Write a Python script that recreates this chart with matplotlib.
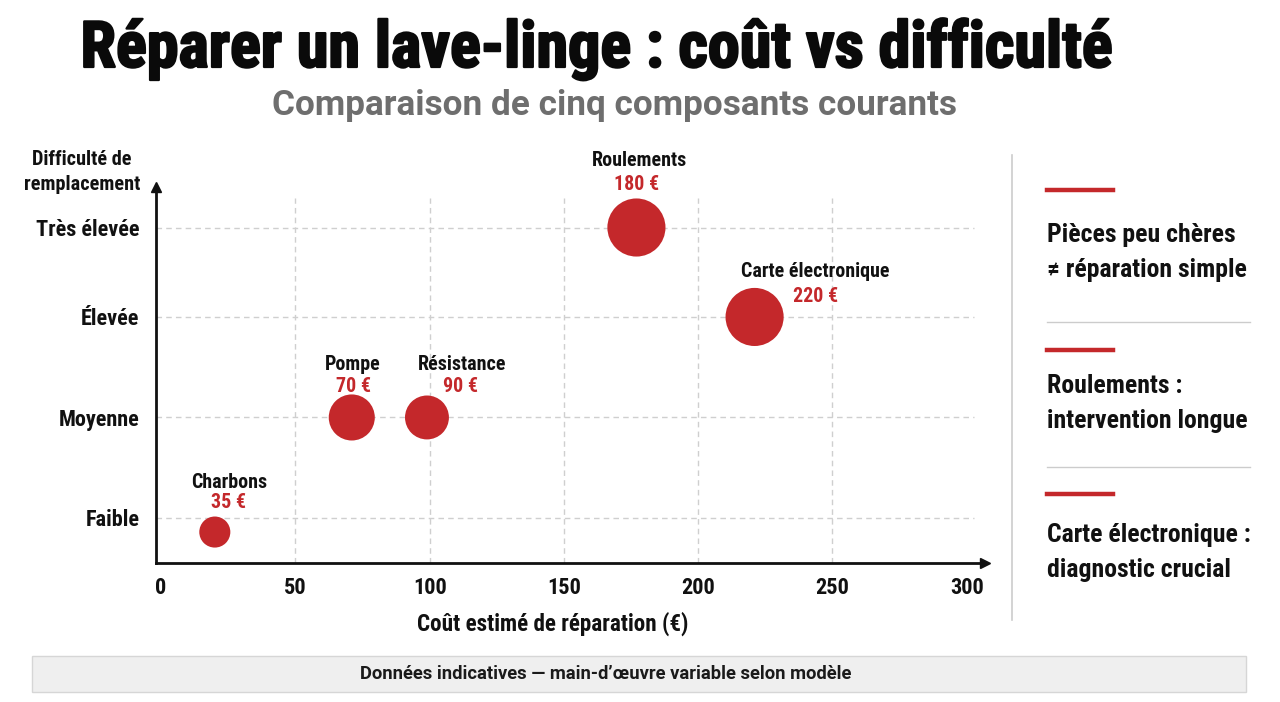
import matplotlib
matplotlib.use("Agg")
import matplotlib.pyplot as plt
from matplotlib.lines import Line2D
from matplotlib.patches import Rectangle
import matplotlib.patheffects as pe

# ---------------- data ----------------
components = ["Charbons", "Pompe", "Résistance", "Roulements", "Carte électronique"]
cost_labels = ["35 €", "70 €", "90 €", "180 €", "220 €"]
x_cost = [20, 71, 99, 177, 221]            # plotted position (€)
y_difficulty = [0.86, 2.0, 2.0, 3.89, 3.0]  # plotted difficulty level
bubble_sizes = [500, 1100, 1000, 1750, 1750]

level_positions = [1, 2, 3, 3.89]
level_labels = ["Faible", "Moyenne", "Élevée", "Très élevée"]
x_ticks = [0, 50, 100, 150, 200, 250, 300]

notes = [("Pièces peu chères", "≠ réparation simple"),
         ("Roulements :", "intervention longue"),
         ("Carte électronique :", "diagnostic crucial")]

title = "Réparer un lave-linge : coût vs difficulté"
subtitle = "Comparaison de cinq composants courants"
xlabel = "Coût estimé de réparation (€)"
ylabel_lines = ["Difficulté de", "remplacement"]
footer = "Données indicatives — main-d’œuvre variable selon modèle"

# ---------------- style ----------------
COND = ["Roboto Condensed", "DejaVu Sans"]
SANS = ["Roboto", "DejaVu Sans"]
RED = "#C4282B"
GRID = "#cfcfcf"
W, H = 1280, 702

fig = plt.figure(figsize=(12.8, 7.02), dpi=100)
fig.patch.set_facecolor("white")

def fx(px):
    return px / W

def fy(py):
    return 1 - py / H

# axes placed in pixel geometry
ax = fig.add_axes([fx(156), fy(563), fx(985) - fx(156), fy(187) - fy(563)])
ax.set_xlim(-1.9, 306.8)
ax.set_ylim(0.552, 4.293)
ax.set_facecolor("none")

for s in ["top", "right"]:
    ax.spines[s].set_visible(False)
for s in ["left", "bottom"]:
    ax.spines[s].set_linewidth(2.0)
    ax.spines[s].set_color("#111111")

# arrow heads
ax.plot(1, 0, marker=">", color="#111111", markersize=7, transform=ax.transAxes, clip_on=False)
ax.plot(0, 1, marker="^", color="#111111", markersize=7, transform=ax.transAxes, clip_on=False)

# grid (manual so it stops short of arrow heads)
x_grid_end = 302.6
y_grid_top = 4.184
for yv in level_positions:
    ax.plot([ax.get_xlim()[0], x_grid_end], [yv, yv], ls=(0, (4, 3)), color=GRID, lw=1, zorder=0)
for xv in x_ticks[1:-1]:
    ax.plot([xv, xv], [ax.get_ylim()[0], y_grid_top], ls=(0, (4, 3)), color=GRID, lw=1, zorder=0)

ax.set_xticks(x_ticks)
ax.set_xticklabels([str(v) for v in x_ticks], family=COND, weight="bold", fontsize=16, color="#111111")
ax.set_yticks(level_positions)
ax.set_yticklabels(level_labels, family=COND, weight="bold", fontsize=16, color="#111111")
ax.tick_params(axis="x", length=0, pad=10)
ax.tick_params(axis="y", length=0, pad=12)

# bubbles
ax.scatter(x_cost, y_difficulty, s=bubble_sizes, color=RED, edgecolors="none", zorder=3)

# labels (offsets in points: name, cost)
name_off = [(10, 36), (1, 38), (25, 38), (2, 48), (44, 33)]
cost_off = [(10, 21), (1, 22), (24, 22), (0, 31), (44, 15)]
for i, comp in enumerate(components):
    ax.annotate(comp, (x_cost[i], y_difficulty[i]), xytext=name_off[i], textcoords="offset points",
                ha="center", va="center", family=COND, weight="bold", fontsize=14.4, color="#111111",
                annotation_clip=False)
    ax.annotate(cost_labels[i], (x_cost[i], y_difficulty[i]), xytext=cost_off[i], textcoords="offset points",
                ha="center", va="center", family=COND, weight="bold", fontsize=14.4, color=RED,
                annotation_clip=False)

# titles
fig.text(fx(596), fy(67), title, ha="center", va="baseline", family=COND, weight="bold",
         fontsize=46.2, color="#0a0a0a",
         path_effects=[pe.withStroke(linewidth=1.6, foreground="#0a0a0a")])
fig.text(fx(615), fy(115), subtitle, ha="center", va="baseline", family=SANS, weight="bold",
         fontsize=25.3, color="#6e6e6e")

# axis titles
fig.text(fx(82), fy(165), ylabel_lines[0], ha="center", va="baseline", family=COND, weight="bold",
         fontsize=14.6, color="#111111")
fig.text(fx(82), fy(190), ylabel_lines[1], ha="center", va="baseline", family=COND, weight="bold",
         fontsize=14.6, color="#111111")
fig.text(fx(553), fy(631), xlabel, ha="center", va="baseline", family=COND, weight="bold",
         fontsize=16.7, color="#111111")

# right panel
fig.add_artist(Line2D([fx(1012), fx(1012)], [fy(155), fy(620)], color="#cccccc", lw=1.2,
                      transform=fig.transFigure))
bar_y = [190, 350, 494]
sep_y = [322, 467]
base_y = [(242, 277), (393, 428), (542, 577)]
for by in bar_y:
    fig.add_artist(Line2D([fx(1047), fx(1113)], [fy(by), fy(by)], color=RED, lw=3.2,
                          transform=fig.transFigure))
for sy in sep_y:
    fig.add_artist(Line2D([fx(1047), fx(1250)], [fy(sy), fy(sy)], color="#cccccc", lw=1.0,
                          transform=fig.transFigure))
for (l1, l2), (b1, b2) in zip(notes, base_y):
    fig.text(fx(1047), fy(b1), l1, ha="left", va="baseline", family=COND, weight="bold",
             fontsize=18.5, color="#111111")
    fig.text(fx(1047), fy(b2), l2, ha="left", va="baseline", family=COND, weight="bold",
             fontsize=18.5, color="#111111")

# footer
fig.add_artist(Rectangle((fx(32), fy(692)), fx(1246) - fx(32), fy(656) - fy(692),
                         transform=fig.transFigure, facecolor="#efefef", edgecolor="#d6d6d6", lw=1))
fig.text(fx(606), fy(674), footer, ha="center", va="center", family=SANS, weight="bold",
         fontsize=13.2, color="#1a1a1a")

fig.savefig("out.png", dpi=100, facecolor="white")
